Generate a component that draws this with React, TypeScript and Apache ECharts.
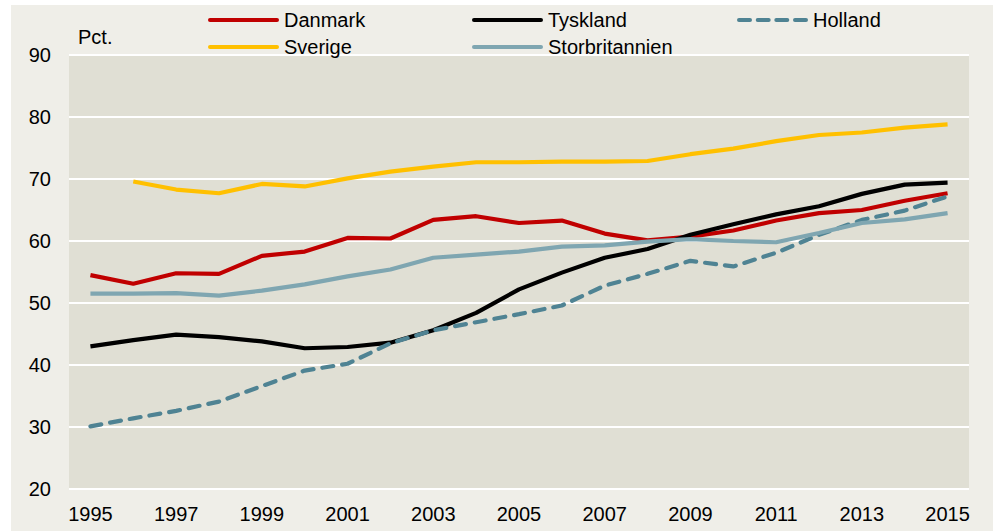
import React, { useEffect, useRef } from "react";
import * as echarts from "echarts";

const years = ["1995","1996","1997","1998","1999","2000","2001","2002","2003","2004","2005","2006","2007","2008","2009","2010","2011","2012","2013","2014","2015"];
const danmark = [54.5,53.1,54.8,54.7,57.6,58.3,60.5,60.4,63.4,64.0,62.9,63.3,61.2,60.1,60.7,61.7,63.3,64.5,65.0,66.5,67.7];
const tyskland = [43.0,44.0,44.9,44.5,43.8,42.7,42.9,43.6,45.6,48.4,52.2,54.9,57.3,58.7,61.0,62.7,64.3,65.6,67.6,69.1,69.4];
const holland = [30.1,31.4,32.6,34.1,36.6,39.1,40.2,43.5,45.6,46.9,48.2,49.6,52.8,54.7,56.8,55.9,58.1,61.0,63.4,64.9,67.2];
const sverige = [null,69.6,68.3,67.7,69.2,68.8,70.1,71.2,72.0,72.7,72.7,72.8,72.8,72.9,74.0,74.9,76.1,77.1,77.5,78.3,78.8];
const storbritannien = [51.5,51.5,51.6,51.2,52.0,53.0,54.3,55.4,57.3,57.8,58.3,59.1,59.3,59.9,60.3,60.0,59.8,61.3,62.9,63.5,64.5];

const FONT = "'Liberation Sans', Arial, sans-serif";

const SOLID_ICON = "path://M2,0H69A2,2,0,0,1,69,4H2A2,2,0,0,1,2,0Z";
const DASH_ICON =
  "path://M2,0H13A2,2,0,0,1,13,4H2A2,2,0,0,1,2,0Z" +
  "M20.7,0H31.7A2,2,0,0,1,31.7,4H20.7A2,2,0,0,1,20.7,0Z" +
  "M39.3,0H50.3A2,2,0,0,1,50.3,4H39.3A2,2,0,0,1,39.3,0Z" +
  "M58,0H69A2,2,0,0,1,69,4H58A2,2,0,0,1,58,0Z";

export default function App() {
  const ref = useRef<HTMLDivElement>(null);
  useEffect(() => {
    if (!ref.current) return;
    const chart = echarts.init(ref.current, null, { renderer: "svg" });
    const legendBase = {
      orient: "vertical" as const,
      itemWidth: 71,
      itemHeight: 4,
      itemGap: 7,
      selectedMode: false,
      padding: 0,
      textStyle: { fontSize: 20, lineHeight: 20, color: "#000", fontFamily: FONT },
    };
    const line = (name: string, data: (number | null)[], color: string, extra: any = {}) => ({
      name,
      type: "line",
      data,
      symbol: "none",
      lineStyle: { color, width: 4.2, ...extra },
      itemStyle: { color },
      connectNulls: false,
    });
    chart.setOption({
      animation: false,
      backgroundColor: "#ffffff",
      textStyle: { fontFamily: FONT },
      graphic: [
        {
          type: "rect",
          z: -10,
          silent: true,
          shape: { x: 11, y: 5, width: 982, height: 530 },
          style: { fill: "#EFEEE8" },
        },
        {
          type: "text",
          x: 78,
          y: 27,
          style: { text: "Pct.", fontSize: 20, fill: "#000", fontFamily: FONT },
        },
      ],
      legend: [
        {
          ...legendBase,
          left: 208,
          top: 10,
          data: [
            { name: "Danmark", icon: SOLID_ICON },
            { name: "Sverige", icon: SOLID_ICON },
          ],
        },
        {
          ...legendBase,
          left: 472,
          top: 10,
          data: [
            { name: "Tyskland", icon: SOLID_ICON },
            { name: "Storbritannien", icon: SOLID_ICON },
          ],
        },
        {
          ...legendBase,
          left: 737,
          top: 10,
          data: [{ name: "Holland", icon: DASH_ICON }],
        },
      ],
      grid: {
        left: 69,
        right: 29,
        top: 55,
        bottom: 42,
        show: true,
        backgroundColor: "#E0DFD4",
        borderWidth: 0,
      },
      xAxis: {
        type: "category",
        data: years,
        boundaryGap: true,
        axisLine: { show: false },
        axisTick: { show: false },
        axisLabel: { interval: 1, fontSize: 20, color: "#000", margin: 15, fontFamily: FONT },
        splitLine: { show: false },
      },
      yAxis: {
        type: "value",
        min: 20,
        max: 90,
        interval: 10,
        axisLine: { show: false },
        axisTick: { show: false },
        axisLabel: { fontSize: 20, color: "#000", margin: 18, fontFamily: FONT },
        splitLine: { show: true, lineStyle: { color: "#ffffff", width: 2 } },
      },
      series: [
        line("Danmark", danmark, "#C00000"),
        line("Tyskland", tyskland, "#000000"),
        line("Holland", holland, "#4F8393", { type: [11, 9], cap: "round" }),
        line("Sverige", sverige, "#FFC000"),
        line("Storbritannien", storbritannien, "#7FA6B1"),
      ],
    });
    return () => chart.dispose();
  }, []);
  return (
    <div
      ref={ref}
      style={{ position: "fixed", left: 0, top: 0, width: 998, height: 531 }}
    />
  );
}
